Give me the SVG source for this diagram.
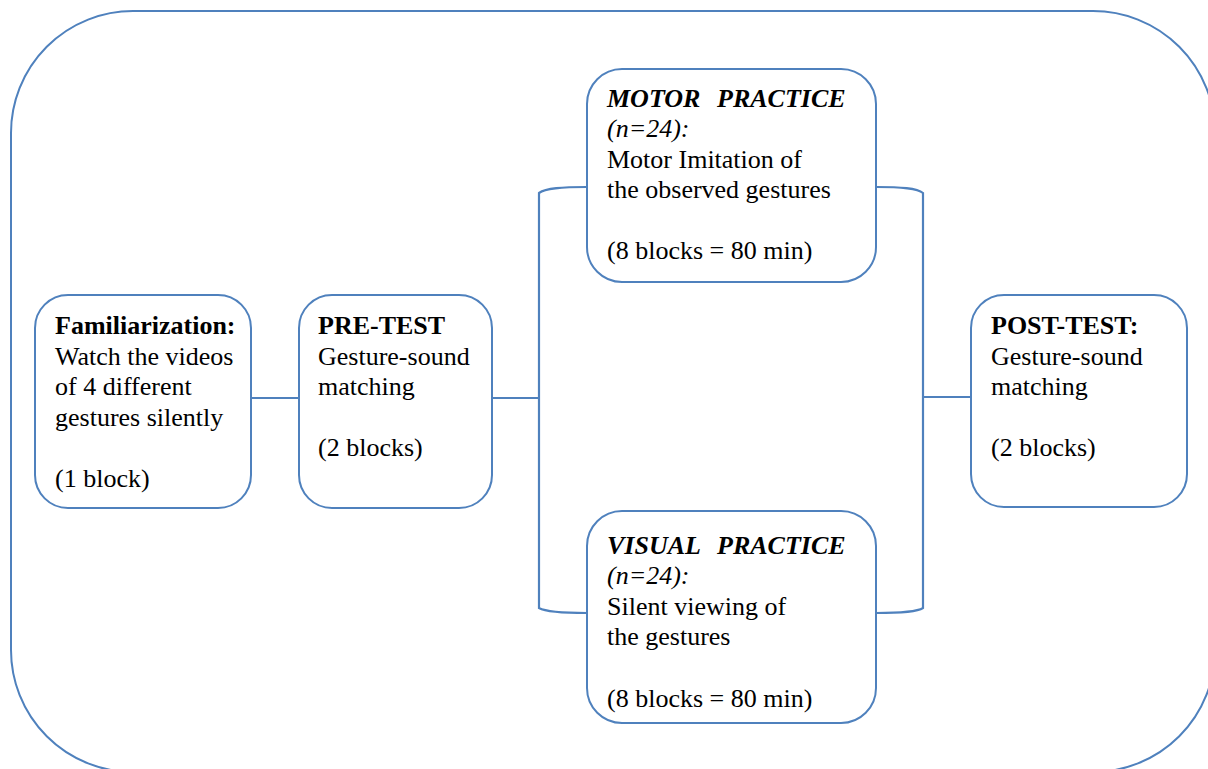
<svg xmlns="http://www.w3.org/2000/svg" width="1208" height="769" viewBox="0 0 1208 769">
<style>
.box{fill:#ffffff;stroke:#4F81BD;stroke-width:2}
.ln{fill:none;stroke:#4F81BD;stroke-width:2.2}
text{font-family:"Liberation Serif","Times New Roman",serif;font-size:26px;fill:#000}
.b{font-weight:bold}
.bi{font-weight:bold;font-style:italic}
.i{font-style:italic}
</style>
<rect id="frame" x="11" y="11" width="1204" height="761" rx="122" ry="122" fill="#ffffff" stroke="#4F81BD" stroke-width="2"/>
<g id="connectors">
<path class="ln" d="M251 398 L299 398"/>
<path class="ln" d="M492 398 L539 398"/>
<path class="ln" d="M587 187 C562 187 546 188 539 193 L539 608 C546 612 562 613 587 613"/>
<path class="ln" d="M876 187 C901 187 917 188 923 193 L923 608 C917 612 901 613 876 613"/>
<path class="ln" d="M923 397 L971 397"/>
</g>
<g id="familiarization">
<rect class="box" x="35" y="295" width="216" height="213" rx="33" ry="33"/>
<text x="55" y="334" class="b">Familiarization:</text>
<text x="55" y="365">Watch the videos</text>
<text x="55" y="395">of 4 different</text>
<text x="55" y="426">gestures silently</text>
<text x="55" y="487">(1 block)</text>
</g>
<g id="pretest">
<rect class="box" x="299" y="295" width="193" height="213" rx="33" ry="33"/>
<text x="318" y="334" class="b">PRE-TEST</text>
<text x="318" y="365">Gesture-sound</text>
<text x="318" y="395">matching</text>
<text x="318" y="456">(2 blocks)</text>
</g>
<g id="motor">
<rect class="box" x="587" y="69" width="289" height="213" rx="35" ry="35"/>
<text x="607" y="107" class="bi">MOTOR</text>
<text x="717" y="107" class="bi">PRACTICE</text>
<text x="607" y="137" class="i">(n=24):</text>
<text x="607" y="168">Motor Imitation of</text>
<text x="607" y="198">the observed gestures</text>
<text x="607" y="259">(8 blocks = 80 min)</text>
</g>
<g id="visual">
<rect class="box" x="587" y="511" width="289" height="212" rx="35" ry="35"/>
<text x="607" y="554" class="bi">VISUAL</text>
<text x="717" y="554" class="bi">PRACTICE</text>
<text x="607" y="584" class="i">(n=24):</text>
<text x="607" y="615">Silent viewing of</text>
<text x="607" y="645">the gestures</text>
<text x="607" y="707">(8 blocks = 80 min)</text>
</g>
<g id="posttest">
<rect class="box" x="971" y="295" width="216" height="212" rx="33" ry="33"/>
<text x="991" y="334" class="b">POST-TEST:</text>
<text x="991" y="365">Gesture-sound</text>
<text x="991" y="395">matching</text>
<text x="991" y="456">(2 blocks)</text>
</g>
</svg>
